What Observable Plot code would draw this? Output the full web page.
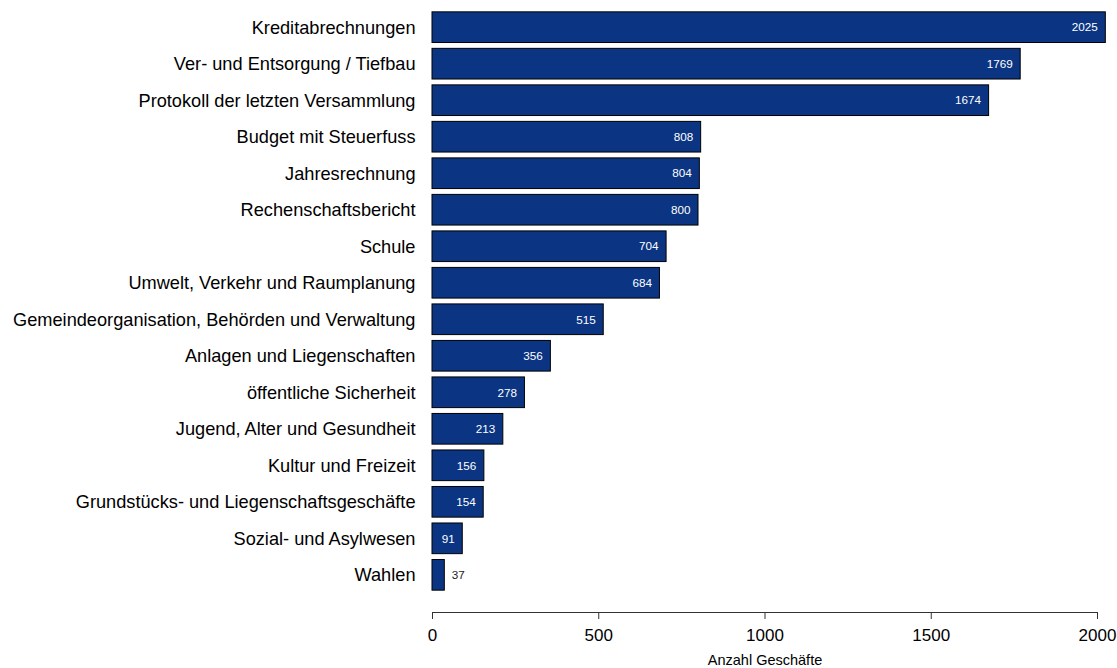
<!DOCTYPE html>
<html>
<head>
<meta charset="utf-8">
<script src="https://cdn.jsdelivr.net/npm/d3@7"></script>
<script src="https://cdn.jsdelivr.net/npm/@observablehq/plot@0.6"></script>
<style>
  html, body { margin: 0; padding: 0; background: #fff; }
  #chart svg { display: block; }
</style>
</head>
<body>
<div id="chart"></div>
<script>
const categories = [
  "Kreditabrechnungen",
  "Ver- und Entsorgung / Tiefbau",
  "Protokoll der letzten Versammlung",
  "Budget mit Steuerfuss",
  "Jahresrechnung",
  "Rechenschaftsbericht",
  "Schule",
  "Umwelt, Verkehr und Raumplanung",
  "Gemeindeorganisation, Behörden und Verwaltung",
  "Anlagen und Liegenschaften",
  "öffentliche Sicherheit",
  "Jugend, Alter und Gesundheit",
  "Kultur und Freizeit",
  "Grundstücks- und Liegenschaftsgeschäfte",
  "Sozial- und Asylwesen",
  "Wahlen"
];
const values = [2025, 1769, 1674, 808, 804, 800, 704, 684, 515, 356, 278, 213, 156, 154, 91, 37];
const xTicks = [0, 500, 1000, 1500, 2000];
const xLabel = "Anzahl Geschäfte";

const data = categories.map((c, i) => ({category: c, value: values[i]}));
const inside = data.filter(d => d.value >= 60);
const outside = data.filter(d => d.value < 60);

const chart = Plot.plot({
  width: 1117,
  height: 668,
  marginLeft: 432,
  marginRight: 20,
  marginTop: 6,
  marginBottom: 56,
  insetBottom: 16,
  style: {fontFamily: "'Liberation Sans', Arial, sans-serif", color: "#000", background: "#fff"},
  x: {domain: [0, 2000], ticks: xTicks},
  y: {domain: categories, padding: 0.16, round: false},
  marks: [
    Plot.barX(data, {x: "value", y: "category", fill: "#0b3582", stroke: "#000", strokeWidth: 1}),
    Plot.text(inside, {x: "value", y: "category", text: d => String(d.value), textAnchor: "end", dx: -8, fill: "#fff", fontSize: 11.7}),
    Plot.text(outside, {x: "value", y: "category", text: d => String(d.value), textAnchor: "start", dx: 7, fill: "#222", fontSize: 11.7}),
    Plot.frame({anchor: "bottom", stroke: "#333"}),
    Plot.axisX({ticks: xTicks, tickFormat: d => String(d), tickSize: 7, tickPadding: 9, fontSize: 17, stroke: "#333", color: "#000", label: null}),
    Plot.text([xLabel], {frameAnchor: "bottom", dy: 52, fontSize: 14.5, fill: "#000", lineAnchor: "bottom"}),
    Plot.axisY({tickSize: 0, tickPadding: 17, fontSize: 18.2, label: null, color: "#000"})
  ]
});
document.getElementById("chart").append(chart);
</script>
</body>
</html>
